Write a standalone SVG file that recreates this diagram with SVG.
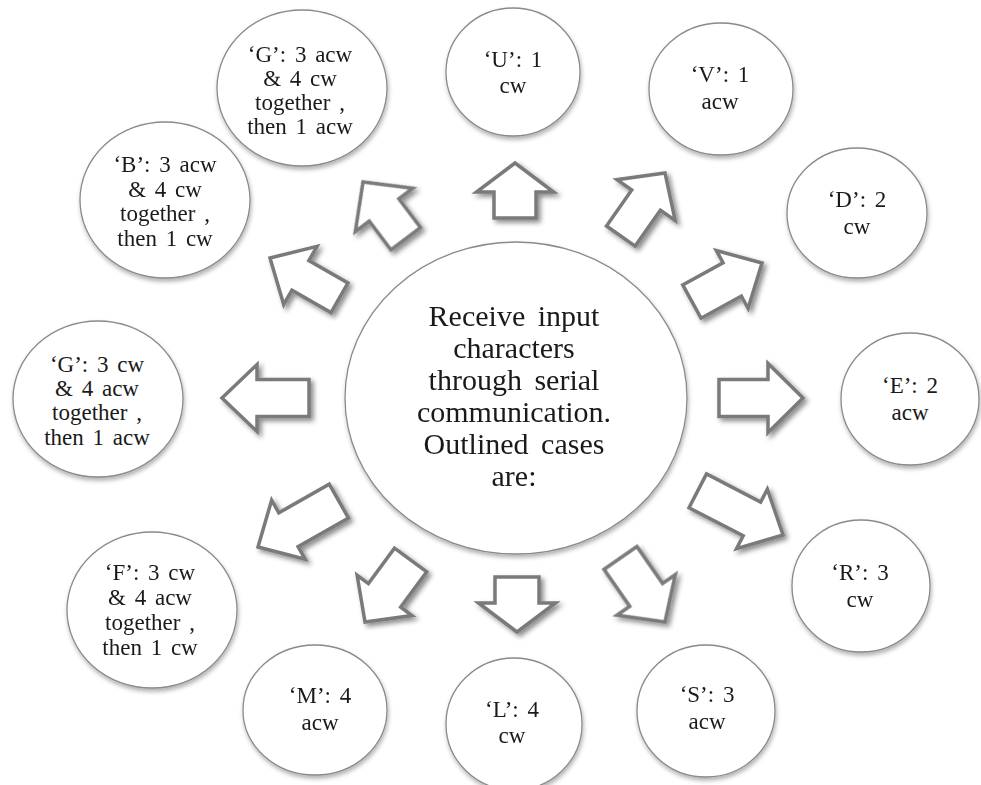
<svg xmlns="http://www.w3.org/2000/svg" width="981" height="785" viewBox="0 0 981 785">
<defs>
<filter id="cs" x="-20%" y="-20%" width="140%" height="145%">
<feDropShadow dx="1" dy="3" stdDeviation="2" flood-color="#000" flood-opacity="0.3"/>
</filter>
<filter id="as" x="-10%" y="-10%" width="120%" height="120%">
<feDropShadow dx="3" dy="3" stdDeviation="2.5" flood-color="#000" flood-opacity="0.45"/>
</filter>
</defs>
<style>
.c{fill:#fff;stroke:#8a8a8a;stroke-width:1.3;filter:url(#cs)}
.t{font-size:23px;fill:#1a1a1a;text-anchor:middle;word-spacing:3px}
.m{font-size:30px;fill:#1a1a1a;text-anchor:middle;word-spacing:5px}
.a{fill:#fff;stroke:#7a7a7a;stroke-width:3.5;stroke-linejoin:miter}
</style>
<rect width="981" height="785" fill="#fff"/>

<g id="connectors" filter="url(#as)">
<polygon class="a" transform="translate(515,163) rotate(-90)" points="0,0 -29,38.5 -29,21 -55,21 -55,-21 -29,-21 -29,-38.5"/>
<polygon class="a" transform="translate(517,632) rotate(90)" points="0,0 -29,38.5 -29,22 -55,22 -55,-22 -29,-22 -29,-38.5"/>
<polygon class="a" transform="translate(803,398)" points="0,0 -35,34.5 -35,18.5 -84,18.5 -84,-18.5 -35,-18.5 -35,-34.5"/>
<polygon class="a" transform="translate(222,398) rotate(180)" points="0,0 -35,33.5 -35,18.5 -87,18.5 -87,-18.5 -35,-18.5 -35,-33.5"/>
<polygon class="a" transform="translate(665,173) rotate(-55)" points="0,0 -33,35.5 -33,17.5 -77,17.5 -77,-17.5 -33,-17.5 -33,-35.5"/>
<polygon class="a" transform="translate(762,263) rotate(-28.8)" points="0,0 -34,33 -34,19 -80,19 -80,-19 -34,-19 -34,-33"/>
<polygon class="a" transform="translate(783,535) rotate(27.4)" points="0,0 -35,33.5 -35,19 -96,19 -96,-19 -35,-19 -35,-33.5"/>
<polygon class="a" transform="translate(665,622) rotate(55.2)" points="0,0 -33,35.5 -33,20 -78,20 -78,-20 -33,-20 -33,-35.5"/>
<polygon class="a" transform="translate(365,622) rotate(126.3)" points="0,0 -33,34 -33,20 -77,20 -77,-20 -33,-20 -33,-34"/>
<polygon class="a" transform="translate(258,547) rotate(150.4)" points="0,0 -35,34 -35,19.5 -93,19.5 -93,-19.5 -35,-19.5 -35,-34"/>
<polygon class="a" transform="translate(270,258) rotate(209.8)" points="0,0 -35,33.5 -35,17 -80,17 -80,-17 -35,-17 -35,-33.5"/>
<polygon class="a" transform="translate(363,182) rotate(233)" points="0,0 -35,36 -35,18.5 -71,18.5 -71,-18.5 -35,-18.5 -35,-36"/>
</g>

<g font-family="'Liberation Serif', 'Times New Roman', Times, serif">
<g id="center">
<ellipse class="c" cx="516" cy="398" rx="171" ry="156"/>
<text class="m" x="514" y="326">Receive input</text>
<text class="m" x="514" y="358">characters</text>
<text class="m" x="514" y="390">through serial</text>
<text class="m" x="514" y="422">communication.</text>
<text class="m" x="514" y="454">Outlined cases</text>
<text class="m" x="514" y="486">are:</text>
</g>

<g id="node-G-top">
<ellipse class="c" cx="302" cy="88" rx="85" ry="78"/>
<text class="t" x="300" y="62">‘G’: 3 acw</text>
<text class="t" x="300" y="86">&amp; 4 cw</text>
<text class="t" x="300" y="110">together ,</text>
<text class="t" x="300" y="134">then 1 acw</text>
</g>

<g id="node-U">
<ellipse class="c" cx="513" cy="72" rx="67" ry="64"/>
<text class="t" x="513" y="67">‘U’: 1</text>
<text class="t" x="513" y="93">cw</text>
</g>

<g id="node-V">
<ellipse class="c" cx="721" cy="89" rx="72" ry="66"/>
<text class="t" x="720" y="82">‘V’: 1</text>
<text class="t" x="720" y="109">acw</text>
</g>

<g id="node-D">
<ellipse class="c" cx="857" cy="213" rx="70" ry="65"/>
<text class="t" x="857" y="207">‘D’: 2</text>
<text class="t" x="857" y="234">cw</text>
</g>

<g id="node-E">
<ellipse class="c" cx="910" cy="399" rx="69" ry="66"/>
<text class="t" x="910" y="393">‘E’: 2</text>
<text class="t" x="910" y="420">acw</text>
</g>

<g id="node-R">
<ellipse class="c" cx="861" cy="586" rx="69" ry="66"/>
<text class="t" x="860" y="580">‘R’: 3</text>
<text class="t" x="860" y="607">cw</text>
</g>

<g id="node-S">
<ellipse class="c" cx="706" cy="711" rx="69" ry="66"/>
<text class="t" x="707" y="702">‘S’: 3</text>
<text class="t" x="707" y="729">acw</text>
</g>

<g id="node-L">
<ellipse class="c" cx="514" cy="724" rx="68" ry="66"/>
<text class="t" x="512" y="717">‘L’: 4</text>
<text class="t" x="512" y="743">cw</text>
</g>

<g id="node-M">
<ellipse class="c" cx="315" cy="710" rx="72" ry="65"/>
<text class="t" x="320" y="703">‘M’: 4</text>
<text class="t" x="320" y="730">acw</text>
</g>

<g id="node-F">
<ellipse class="c" cx="152" cy="610" rx="85" ry="78"/>
<text class="t" x="150" y="580">‘F’: 3 cw</text>
<text class="t" x="150" y="605">&amp; 4 acw</text>
<text class="t" x="150" y="630">together ,</text>
<text class="t" x="150" y="655">then 1 cw</text>
</g>

<g id="node-G-left">
<ellipse class="c" cx="98" cy="399" rx="85" ry="78"/>
<text class="t" x="97" y="372">‘G’: 3 cw</text>
<text class="t" x="97" y="396">&amp; 4 acw</text>
<text class="t" x="97" y="420">together ,</text>
<text class="t" x="97" y="445">then 1 acw</text>
</g>

<g id="node-B">
<ellipse class="c" cx="165" cy="200" rx="85" ry="78"/>
<text class="t" x="165" y="172">‘B’: 3 acw</text>
<text class="t" x="165" y="197">&amp; 4 cw</text>
<text class="t" x="165" y="221">together ,</text>
<text class="t" x="165" y="246">then 1 cw</text>
</g>
</g>
</svg>
